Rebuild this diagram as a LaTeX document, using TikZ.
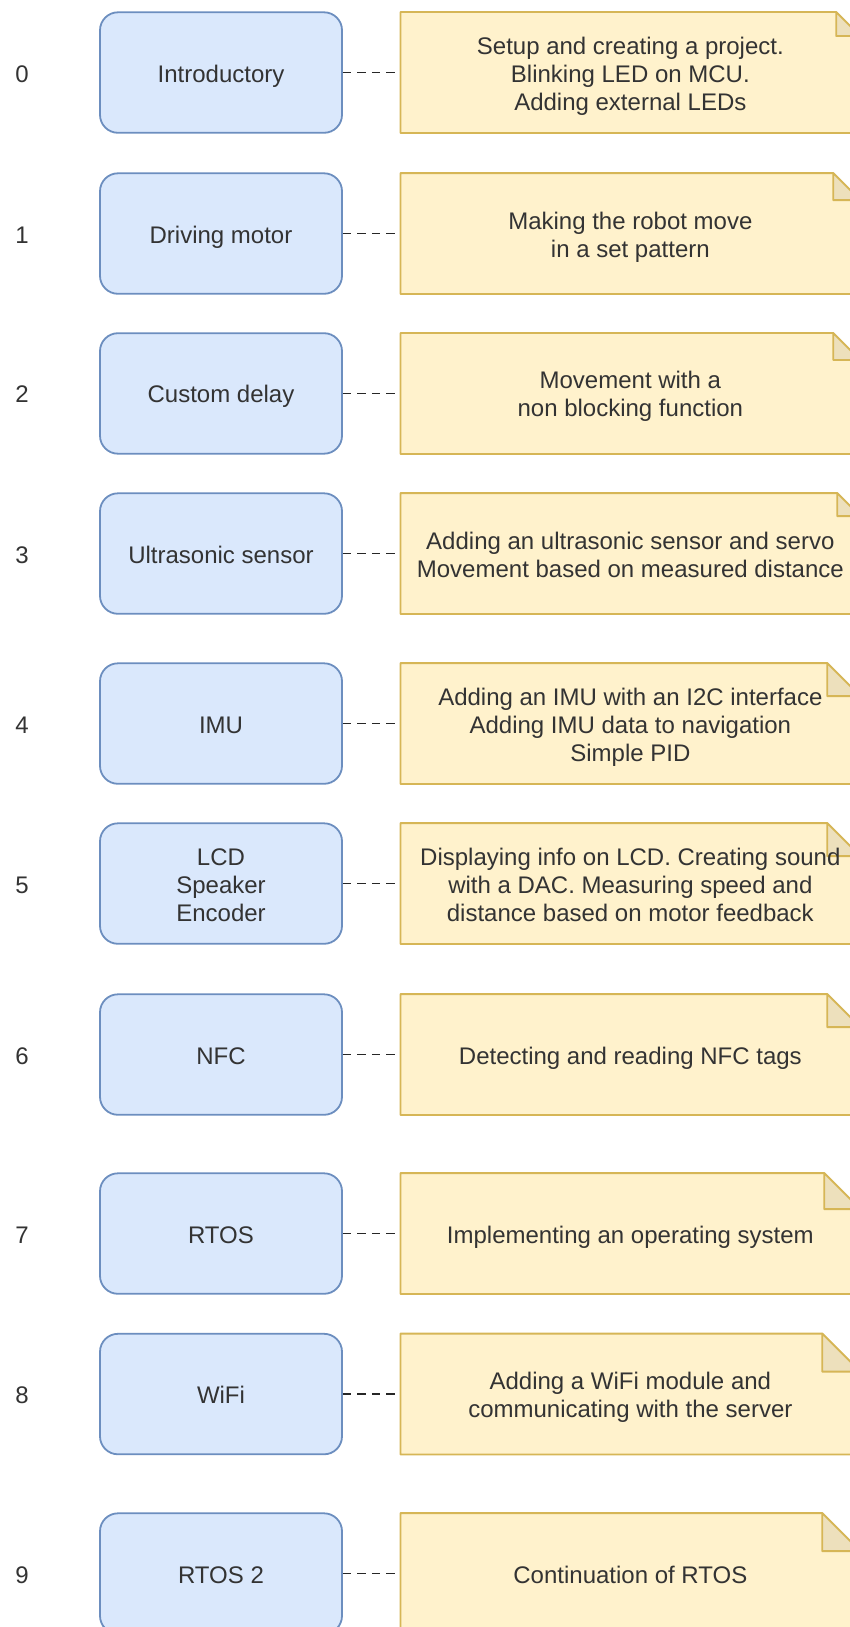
\documentclass[tikz,border=0pt]{standalone}
\usepackage{fontspec}
\setmainfont{Liberation Sans}
\usetikzlibrary{backgrounds}
\definecolor{boxfill}{HTML}{DAE8FC}
\definecolor{boxline}{HTML}{6C8EBF}
\definecolor{notefill}{HTML}{FFF2CC}
\definecolor{noteline}{HTML}{D6B656}
\definecolor{foldfill}{HTML}{EDE0BC}
\definecolor{txt}{HTML}{333333}
\newcommand\topstrut{\rule{0pt}{24.5pt}}
\newcommand\botstrut{\rule[-5.5pt]{0pt}{5.5pt}}
\tikzset{
  stagebox/.style={draw=boxline, fill=boxfill, line width=1.8pt, rounded corners=18pt,
    minimum width=242pt, minimum height=120.5pt, inner sep=0pt, align=center, text=txt,
    font=\fontsize{24}{28}\selectfont},
  notebody/.style={minimum width=459.3pt, minimum height=120.5pt, inner sep=0pt,
    align=center, text=txt, font=\fontsize{24}{28}\selectfont},
  noteshape/.style={draw=noteline, fill=notefill, line width=1.8pt, line join=round},
  foldshape/.style={draw=noteline, fill=foldfill, line width=1.8pt, line join=round},
  numlbl/.style={text=txt, font=\fontsize{24}{28}\selectfont, inner sep=0pt},
  linkline/.style={draw=black!85, line width=1.8pt, dash pattern=on 8.5pt off 6pt}
}
\newcommand\mkrow[5]{%
  \node[numlbl] (num#1) at (22, #2+60.25) {\topstrut#1\botstrut};
  \node[stagebox] (box#1) at (221, #2+60.25) {\topstrut#4\botstrut};
  \node[notebody] (note#1) at (630.35, #2+60.25) {\topstrut#5\botstrut};
  \begin{scope}[on background layer]
    \path[noteshape] (note#1.north west) -- ([xshift=-#3pt]note#1.north east)
      -- ([yshift=-#3pt]note#1.north east) -- (note#1.south east)
      -- (note#1.south west) -- cycle;
    \path[foldshape] ([xshift=-#3pt]note#1.north east)
      -- ([xshift=-#3pt,yshift=-#3pt]note#1.north east)
      -- ([yshift=-#3pt]note#1.north east) -- cycle;
  \end{scope}
  \draw[linkline] (box#1) -- (note#1);
}
\begin{document}
\begin{tikzpicture}[x=1pt, y=-1pt]
\useasboundingbox (0,0) rectangle (849,1627);
\begin{scope}[on background layer]
  \fill[white] (0,0) rectangle (849,1627);
\end{scope}
\mkrow{0}{12.3}{24}{Introductory}{Setup and creating a project.\\Blinking LED on MCU.\\Adding external LEDs}
\mkrow{1}{173.3}{27}{Driving motor}{Making the robot move\\in a set pattern}
\mkrow{2}{333.2}{27}{Custom delay}{Movement with a\\non blocking function}
\mkrow{3}{493.3}{23}{Ultrasonic sensor}{Adding an ultrasonic sensor and servo\\Movement based on measured distance}
\mkrow{4}{663.3}{33}{IMU}{Adding an IMU with an I2C interface\\Adding IMU data to navigation\\Simple PID}
\mkrow{5}{823.3}{33}{LCD\\Speaker\\Encoder}{Displaying info on LCD. Creating sound\\with a DAC. Measuring speed and\\distance based on motor feedback}
\mkrow{6}{994.3}{33}{NFC}{Detecting and reading NFC tags}
\mkrow{7}{1173.3}{36}{RTOS}{Implementing an operating system}
\mkrow{8}{1333.8}{38}{WiFi}{Adding a WiFi module and\\communicating with the server}
\mkrow{9}{1513.3}{38}{RTOS 2}{Continuation of RTOS}
\end{tikzpicture}
\end{document}
